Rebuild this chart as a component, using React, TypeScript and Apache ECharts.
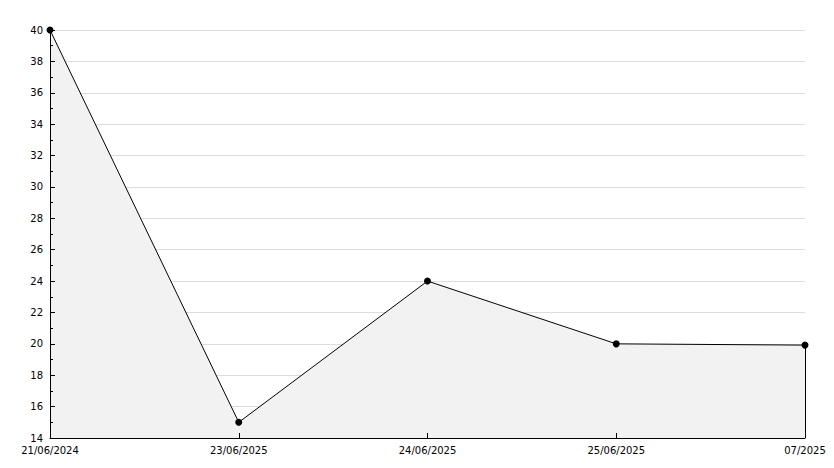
import React, { useEffect, useRef } from "react";
import * as echarts from "echarts";

const categories = ["21/06/2024", "23/06/2025", "24/06/2025", "25/06/2025", "07/2025"];
const values = [40, 15, 24, 20, 19.92];
const yMin = 14;
const yMax = 40;
const yStep = 2;

export default function App() {
  const ref = useRef<HTMLDivElement>(null);
  useEffect(() => {
    if (!ref.current) return;
    const chart = echarts.init(ref.current, null, { renderer: "svg" });
    const font = { fontFamily: "DejaVu Sans", fontSize: 10, color: "#000" };
    const lastIdx = categories.length - 1;
    chart.setOption({
      animation: false,
      grid: { left: 50, right: 29, top: 30, bottom: 30, containLabel: false },
      xAxis: {
        type: "category",
        data: categories,
        boundaryGap: false,
        z: 3,
        axisLine: { show: true, lineStyle: { color: "#000", width: 1 } },
        axisTick: { show: true, inside: true, length: 5, alignWithLabel: true, lineStyle: { color: "#000" } },
        axisLabel: { ...font, margin: 7, interval: 0, showMinLabel: true, showMaxLabel: true },
        splitLine: { show: false },
      },
      yAxis: [
        {
          type: "value",
          min: yMin,
          max: yMax,
          interval: yStep,
          position: "left",
          z: 3,
          axisLine: { show: true, lineStyle: { color: "#000", width: 1 } },
          axisTick: { show: true, inside: true, length: 5, lineStyle: { color: "#000" } },
          minorTick: { show: true, splitNumber: 2, length: 3, lineStyle: { color: "#000" } },
          axisLabel: { ...font, margin: 7 },
          splitLine: { show: false },
        },
        {
          type: "value",
          min: yMin,
          max: yMax,
          interval: yStep,
          position: "left",
          z: 0,
          axisLine: { show: false },
          axisTick: { show: false },
          axisLabel: { show: false },
          splitLine: { show: true, lineStyle: { color: "#dcdcdc", width: 1 } },
        },
      ],
      series: [
        {
          type: "line",
          z: 2,
          yAxisIndex: 0,
          data: values,
          symbol: "circle",
          symbolSize: 7,
          itemStyle: { color: "#000" },
          lineStyle: { color: "#000", width: 1 },
          areaStyle: { color: "#f2f2f2", opacity: 1 },
          markLine: {
            silent: true,
            symbol: "none",
            label: { show: false },
            lineStyle: { color: "#000", width: 1, type: "solid" },
            data: [[{ coord: [lastIdx, values[lastIdx]] }, { coord: [lastIdx, yMin] }]],
          },
        },
      ],
    });
    return () => chart.dispose();
  }, []);
  return <div ref={ref} style={{ width: 834, height: 468, position: "absolute", left: 0, top: 0 }} />;
}
